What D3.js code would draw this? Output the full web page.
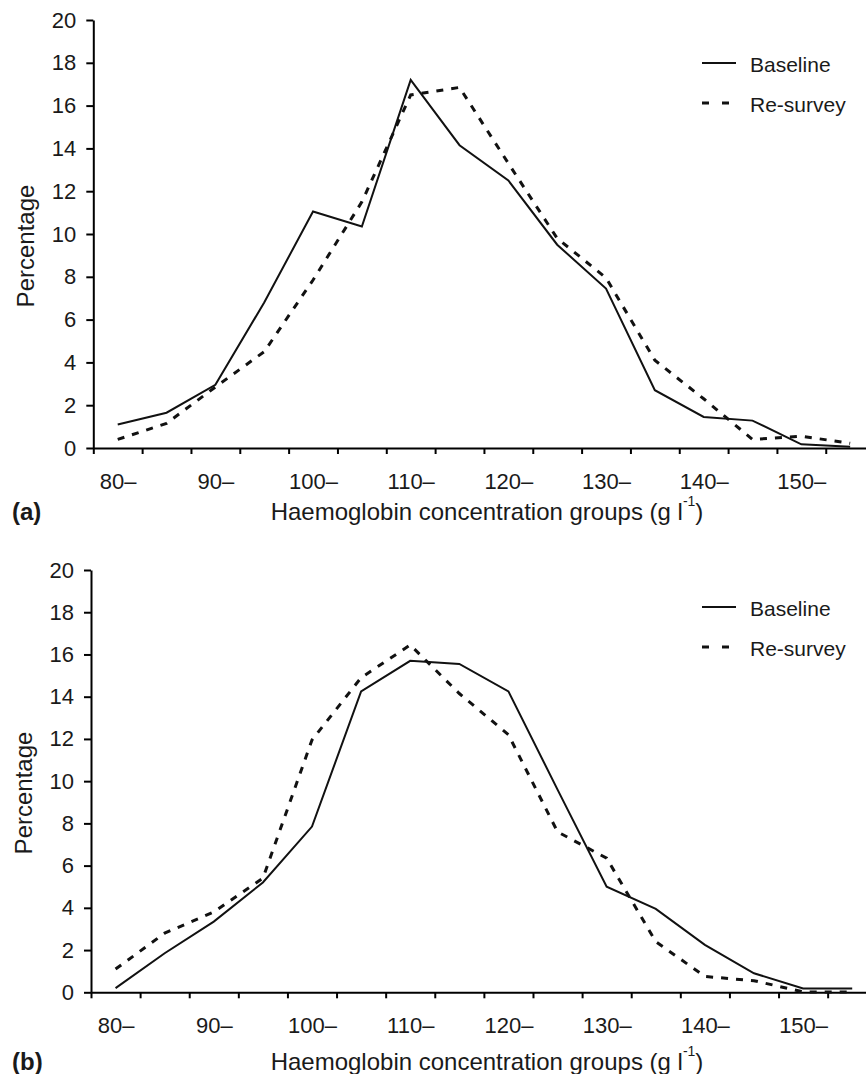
<!DOCTYPE html>
<html>
<head>
<meta charset="utf-8">
<script src="https://cdn.jsdelivr.net/npm/d3@7"></script>
<style>
  body { margin: 0; background: #fff; }
  svg { display: block; }
  text { font-family: "Liberation Sans", Arial, sans-serif; fill: #1a1a1a; }
</style>
</head>
<body>
<svg id="chart" width="866" height="1074"></svg>
<script>
// haemoglobin groups, 5 g/l wide
const categories = [80, 85, 90, 95, 100, 105, 110, 115, 120, 125, 130, 135, 140, 145, 150, 155]
const tickLabels = ['80–', '90–', '100–', '110–', '120–', '130–', '140–', '150–']
const yTicks = [0, 2, 4, 6, 8, 10, 12, 14, 16, 18, 20]
const seriesNames = ['Baseline', 'Re-survey']

// (a)
const baselineA = [1.1, 1.65, 2.95, 6.8, 11.05, 10.35, 17.2, 14.15, 12.5, 9.5, 7.45, 2.7, 1.45, 1.28, 0.17, 0.06]
const resurveyA = [0.4, 1.15, 2.85, 4.5, 7.85, 11.5, 16.5, 16.85, 13.3, 9.8, 7.95, 4.1, 2.3, 0.4, 0.55, 0.22]
// (b)
const baselineB = [0.2, 1.85, 3.35, 5.2, 7.85, 14.25, 15.7, 15.55, 14.25, 9.6, 5.0, 3.95, 2.25, 0.9, 0.18, 0.18]
const resurveyB = [1.1, 2.8, 3.8, 5.4, 11.95, 14.9, 16.45, 14.15, 12.2, 7.6, 6.35, 2.4, 0.75, 0.55, 0.02, 0.02]

const svg = d3.select('#chart')

// 一个面板
function drawPanel (opt) {
    const g = svg.append('g').attr('class', 'panel')
    const n = categories.length

    const x = d3.scaleLinear()
        .domain([0, n])
        .range([opt.left, opt.left + n * opt.step])
    const y = d3.scaleLinear()
        .domain([0, 20])
        .range([opt.bottom, opt.top])

    // x axis: ticks on group boundaries
    const xAxis = g.append('g')
        .attr('transform', `translate(0,${opt.bottom})`)
        .call(d3.axisBottom(x).tickValues(d3.range(n + 1)).tickSize(6).tickSizeOuter(0).tickFormat(''))
    xAxis.select('.domain').attr('stroke-width', 2)
    xAxis.selectAll('.tick line').attr('stroke-width', 2)

    // group labels under every second group
    const labelAxis = g.append('g')
        .attr('transform', `translate(0,${opt.bottom})`)
        .call(d3.axisBottom(x)
            .tickValues(tickLabels.map((d, i) => i * 2 + 0.5))
            .tickFormat((d, i) => tickLabels[i])
            .tickSize(0)
            .tickPadding(25))
    labelAxis.select('.domain').remove()
    labelAxis.selectAll('text')
        .attr('font-size', 22)
        .attr('font-family', '"Liberation Sans", Arial, sans-serif')
        .attr('fill', '#1a1a1a')

    const yAxis = g.append('g')
        .attr('transform', `translate(${opt.left},0)`)
        .call(d3.axisLeft(y).tickValues(yTicks).tickSize(7).tickSizeOuter(0).tickPadding(10))
    yAxis.select('.domain').attr('stroke-width', 2)
    yAxis.selectAll('.tick line').attr('stroke-width', 2)
    yAxis.selectAll('text')
        .attr('font-size', 22)
        .attr('font-family', '"Liberation Sans", Arial, sans-serif')
        .attr('fill', '#1a1a1a')

    const line = d3.line()
        .x((d, i) => x(i + 0.5))
        .y(d => y(d))

    g.append('path')
        .datum(opt.baseline)
        .attr('d', line)
        .attr('fill', 'none')
        .attr('stroke', '#111')
        .attr('stroke-width', 2)
        .attr('stroke-linejoin', 'miter')

    g.append('path')
        .datum(opt.resurvey)
        .attr('d', line)
        .attr('fill', 'none')
        .attr('stroke', '#111')
        .attr('stroke-width', 3)
        .attr('stroke-dasharray', '7,8')

    // y title
    g.append('text')
        .attr('transform', `translate(${opt.left - 68},${opt.labelY}) rotate(-90)`)
        .attr('text-anchor', 'middle')
        .attr('dominant-baseline', 'central')
        .attr('font-size', 24)
        .text('Percentage')

    // x title
    const title = g.append('text')
        .attr('x', 487)
        .attr('y', opt.titleY)
        .attr('text-anchor', 'middle')
        .attr('dominant-baseline', 'central')
        .attr('font-size', 24)
    title.append('tspan').text('Haemoglobin concentration groups (g l')
    title.append('tspan').attr('font-size', 14).attr('dy', -10).text('-1')
    title.append('tspan').attr('dy', 10).text(')')

    g.append('text')
        .attr('x', 12)
        .attr('y', opt.titleY)
        .attr('dominant-baseline', 'central')
        .attr('font-size', 24)
        .attr('font-weight', 'bold')
        .text(opt.tag)

    // legend
    const lg = g.append('g').attr('class', 'legend')
    seriesNames.forEach((name, i) => {
        const ly = opt.legendY + i * 40
        lg.append('line')
            .attr('x1', 702).attr('x2', 736)
            .attr('y1', ly).attr('y2', ly)
            .attr('stroke', '#111')
            .attr('stroke-width', i ? 3 : 2)
            .attr('stroke-dasharray', i ? '7,13' : null)
        lg.append('text')
            .attr('x', 750)
            .attr('y', ly + 1)
            .attr('dominant-baseline', 'central')
            .attr('font-size', 21)
            .text(name)
    })
}

drawPanel({
    tag: '(a)', baseline: baselineA, resurvey: resurveyA,
    left: 93.3, step: 48.83, top: 20, bottom: 448,
    labelY: 246, titleY: 511, legendY: 63
})
drawPanel({
    tag: '(b)', baseline: baselineB, resurvey: resurveyB,
    left: 91, step: 49.11, top: 570, bottom: 992.3,
    labelY: 793, titleY: 1061, legendY: 607
})
</script>
</body>
</html>
